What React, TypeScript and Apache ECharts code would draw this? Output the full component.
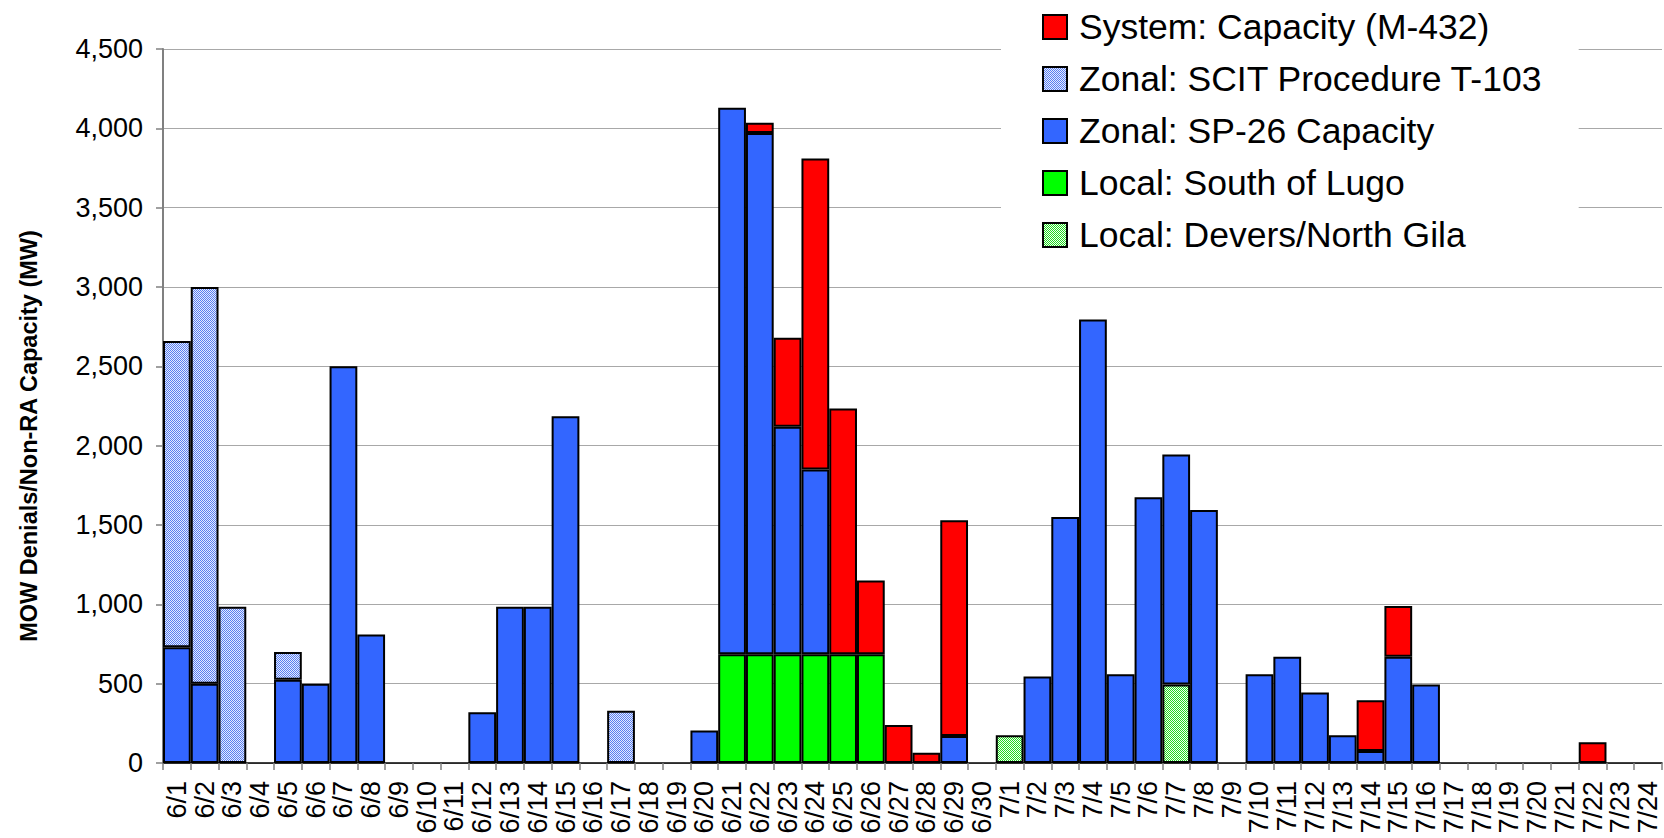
import { useEffect, useRef } from "react";
import * as echarts from "echarts";

const categories = [
  "6/1", "6/2", "6/3", "6/4", "6/5", "6/6", "6/7", "6/8", "6/9", "6/10",
  "6/11", "6/12", "6/13", "6/14", "6/15", "6/16", "6/17", "6/18", "6/19", "6/20",
  "6/21", "6/22", "6/23", "6/24", "6/25", "6/26", "6/27", "6/28", "6/29", "6/30",
  "7/1", "7/2", "7/3", "7/4", "7/5", "7/6", "7/7", "7/8", "7/9", "7/10",
  "7/11", "7/12", "7/13", "7/14", "7/15", "7/16", "7/17", "7/18", "7/19", "7/20",
  "7/21", "7/22", "7/23", "7/24",
];

// Local: Devers/North Gila
const deversNorthGila = [
  0, 0, 0, 0, 0, 0, 0, 0, 0, 0,
  0, 0, 0, 0, 0, 0, 0, 0, 0, 0,
  0, 0, 0, 0, 0, 0, 0, 0, 0, 0,
  175, 0, 0, 0, 0, 0, 495, 0, 0, 0,
  0, 0, 0, 0, 0, 0, 0, 0, 0, 0,
  0, 0, 0, 0,
];

// Local: South of Lugo
const southOfLugo = [
  0, 0, 0, 0, 0, 0, 0, 0, 0, 0,
  0, 0, 0, 0, 0, 0, 0, 0, 0, 0,
  685, 685, 685, 685, 685, 685, 0, 0, 0, 0,
  0, 0, 0, 0, 0, 0, 0, 0, 0, 0,
  0, 0, 0, 0, 0, 0, 0, 0, 0, 0,
  0, 0, 0, 0,
];

// Zonal: SP-26 Capacity
const sp26Capacity = [
  730, 500, 0, 0, 525, 500, 2500, 810, 0, 0,
  0, 320, 985, 985, 2185, 0, 0, 0, 0, 205,
  3445, 3285, 1435, 1165, 0, 0, 0, 0, 170, 0,
  0, 545, 1550, 2795, 560, 1675, 1450, 1595, 0, 560,
  670, 445, 175, 75, 670, 495, 0, 0, 0, 0,
  0, 0, 0, 0,
];

// Zonal: SCIT Procedure T-103
const scitProcedure = [
  1930, 2500, 985, 0, 175, 0, 0, 0, 0, 0,
  0, 0, 0, 0, 0, 0, 330, 0, 0, 0,
  0, 0, 0, 0, 0, 0, 0, 0, 0, 0,
  0, 0, 0, 0, 0, 0, 0, 0, 0, 0,
  0, 0, 0, 0, 0, 0, 0, 0, 0, 0,
  0, 0, 0, 0,
];

// System: Capacity (M-432)
const systemCapacity = [
  0, 0, 0, 0, 0, 0, 0, 0, 0, 0,
  0, 0, 0, 0, 0, 0, 0, 0, 0, 0,
  0, 65, 560, 1960, 1550, 465, 240, 65, 1360, 0,
  0, 0, 0, 0, 0, 0, 0, 0, 0, 0,
  0, 0, 0, 320, 320, 0, 0, 0, 0, 0,
  0, 130, 0, 0,
];

const yTicks = { min: 0, max: 4500, interval: 500 };

const FONT = "'Liberation Sans', Arial, sans-serif";

function makePattern(fg: string, bg: string) {
  const c = document.createElement("canvas");
  c.width = 4;
  c.height = 4;
  const ctx = c.getContext("2d")!;
  ctx.fillStyle = bg;
  ctx.fillRect(0, 0, 4, 4);
  ctx.fillStyle = fg;
  const pts = [
    [0, 0], [2, 0], [1, 1], [3, 1], [0, 2], [2, 2], [1, 3], [3, 3],
  ];
  pts.forEach(([x, y]) => ctx.fillRect(x, y, 1, 1));
  return { image: c, repeat: "repeat" } as any;
}

const nz = (arr: number[]) => arr.map((v) => (v === 0 ? "-" : v));

export default function App() {
  const ref = useRef<HTMLDivElement>(null);

  useEffect(() => {
    document.body.style.margin = "0";
    document.body.style.overflow = "hidden";
    if (!ref.current) return;
    const chart = echarts.init(ref.current, undefined, { renderer: "svg" });

    const scitPattern = makePattern("#5a7ff0", "#e4ebff");
    const deversPattern = makePattern("#22d822", "#f0fff0");

    const border = { borderColor: "#000000", borderWidth: 2 };

    const mk = (name: string, data: number[], color: any) => ({
      name,
      type: "bar",
      stack: "total",
      barCategoryGap: "0%",
      data: nz(data),
      itemStyle: { color, ...border },
      emphasis: { disabled: true },
    });

    chart.setOption({
      animation: false,
      backgroundColor: "#ffffff",
      grid: { left: 163, right: 2, top: 49, bottom: 75, containLabel: false },
      legend: {
        orient: "vertical",
        left: 1001,
        top: 0,
        padding: [9, 36, 12, 41],
        backgroundColor: "#ffffff",
        itemWidth: 24,
        itemHeight: 24,
        itemGap: 16,
        icon: "rect",
        align: "left",
        textStyle: {
          fontFamily: FONT,
          fontSize: 35.5,
          color: "#000000",
          lineHeight: 34,
          padding: [0, 0, 0, 7],
        },
        data: [
          "System: Capacity (M-432)",
          "Zonal: SCIT Procedure T-103",
          "Zonal: SP-26 Capacity",
          "Local: South of Lugo",
          "Local: Devers/North Gila",
        ],
      },
      xAxis: {
        type: "category",
        data: categories,
        boundaryGap: true,
        axisLine: { show: true, lineStyle: { color: "#000000", width: 1.5 } },
        axisTick: { show: true, interval: 0, length: 7, lineStyle: { color: "#808080", width: 1.5 } },
        axisLabel: {
          interval: 0,
          rotate: 90,
          margin: 18,
          fontFamily: FONT,
          fontSize: 27,
          color: "#000000",
        },
        splitLine: { show: false },
      },
      yAxis: {
        type: "value",
        min: yTicks.min,
        max: yTicks.max,
        interval: yTicks.interval,
        name: "MOW Denials/Non-RA Capacity (MW)",
        nameLocation: "middle",
        nameRotate: 90,
        nameGap: 122,
        nameTextStyle: {
          fontFamily: FONT,
          fontSize: 23.5,
          fontWeight: "bold",
          color: "#000000",
          padding: [0, 60, 0, 0],
        },
        axisLine: { show: true, lineStyle: { color: "#808080", width: 2 } },
        axisTick: { show: true, length: 7, lineStyle: { color: "#808080", width: 1.5 } },
        axisLabel: {
          margin: 20,
          fontFamily: FONT,
          fontSize: 27,
          color: "#000000",
          formatter: (v: number) => v.toLocaleString("en-US"),
        },
        splitLine: { show: true, lineStyle: { color: "#a8a8a8", width: 1 } },
      },
      series: [
        mk("Local: Devers/North Gila", deversNorthGila, deversPattern),
        mk("Local: South of Lugo", southOfLugo, "#00ff00"),
        mk("Zonal: SP-26 Capacity", sp26Capacity, "#3366ff"),
        mk("Zonal: SCIT Procedure T-103", scitProcedure, scitPattern),
        mk("System: Capacity (M-432)", systemCapacity, "#ff0000"),
      ],
    });

    return () => chart.dispose();
  }, []);

  return <div ref={ref} style={{ width: 1664, height: 838 }} />;
}
